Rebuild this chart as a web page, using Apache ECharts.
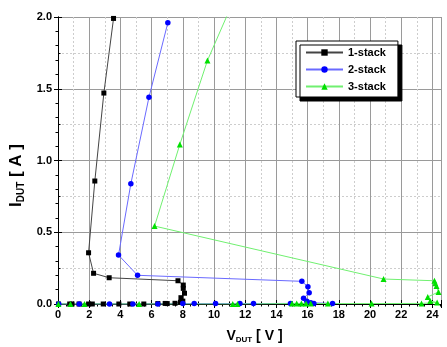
<!DOCTYPE html>
<html>
<head>
<meta charset="utf-8">
<script src="https://cdn.jsdelivr.net/npm/echarts@6.0.0/dist/echarts.min.js"></script>
<style>
  html, body { margin: 0; padding: 0; background: #fff; }
  #chart { width: 447px; height: 347px; }
</style>
</head>
<body>
<div id="chart"></div>
<script>
// values (V_DUT in V, I_DUT in A), in sweep order
const v1 = [0.03, 0.75, 0.9, 1.35, 1.96, 2.2, 2.9, 3.9, 4.6, 5.5, 6.4, 6.87, 7.0, 7.5, 7.85, 8.0, 7.88, 8.11, 8.03, 8.03, 7.69, 3.28, 2.28, 1.96, 2.36, 2.94, 3.56];
const i1 = [0, 0, 0, 0, 0, 0, 0, 0, 0, 0, 0.003, 0.004, 0.003, 0.005, 0.012, 0.02, 0.044, 0.075, 0.109, 0.132, 0.162, 0.183, 0.214, 0.357, 0.857, 1.47, 1.99];

const v2 = [0.05, 1.36, 3.3, 4.8, 6.4, 8.0, 8.73, 10.1, 11.66, 12.53, 14.9, 16.4, 17.6, 16.2, 15.95, 15.74, 16.1, 16.02, 15.63, 5.1, 3.88, 4.67, 5.83, 7.04];
const i2 = [0, 0, 0, 0, 0, 0.003, 0.003, 0.003, 0.003, 0.003, 0.004, 0.004, 0.004, 0.008, 0.02, 0.04, 0.079, 0.12, 0.158, 0.2, 0.341, 0.838, 1.44, 1.96];

const v3 = [0.03, 0.8, 1.7, 5.2, 11.2, 11.5, 15.0, 15.3, 15.6, 15.9, 16.2, 17.3, 20.1, 23.3, 24.3, 23.86, 23.7, 24.39, 24.26, 24.18, 24.13, 20.87, 6.19, 7.81, 9.58, 11.6];
const i3 = [0, 0, 0, 0, 0, 0, 0.003, 0.004, 0.003, 0.004, 0.003, 0.003, 0.003, 0.004, 0.01, 0.021, 0.049, 0.084, 0.125, 0.144, 0.162, 0.174, 0.543, 1.112, 1.697, 2.2];

const seriesNames = ["1-stack", "2-stack", "3-stack"];

const zip = (xs, ys) => xs.map((x, k) => [x, ys[k]]);

const font = "'Liberation Sans', Arial, sans-serif";

const chart = echarts.init(document.getElementById("chart"));

const minorGrid = { show: true, lineStyle: { color: "#cdcdcd", type: [2, 2], width: 1 } };

chart.setOption({
  backgroundColor: "#fff",
  animation: false,
  textStyle: { fontFamily: font },
  grid: { left: 58, right: 6, top: 17, bottom: 43, containLabel: false, outerBoundsMode: "none" },
  legend: {
    data: seriesNames,
    orient: "vertical",
    left: 296,
    top: 41,
    padding: [6, 12, 5, 9],
    itemWidth: 37,
    itemHeight: 8,
    itemGap: 6,
    backgroundColor: "#fff",
    borderColor: "#000",
    borderWidth: 1,
    borderRadius: 0,
    shadowColor: "#000",
    shadowOffsetX: 4,
    shadowOffsetY: 4,
    shadowBlur: 0,
    textStyle: { fontFamily: font, fontWeight: "bold", fontSize: 11, color: "#000" },
  },
  xAxis: [
    {
      type: "value",
      min: 0,
      max: 24.55,
      interval: 2,
      name: "{a|V}{b|DUT}{a| [ V ]}",
      nameLocation: "middle",
      nameGap: 24,
      nameTextStyle: {
        padding: [0, 0, 0, 10],
        rich: {
          a: { fontFamily: font, fontSize: 14, fontWeight: "bold", color: "#000", lineHeight: 16 },
          b: { fontFamily: font, fontSize: 8, fontWeight: "bold", color: "#000", verticalAlign: "bottom", lineHeight: 16, padding: [5, 0, 0, 0] },
        },
      },
      axisLine: { show: true, lineStyle: { color: "#000", width: 1 } },
      axisTick: { show: true, inside: true, length: 4, lineStyle: { color: "#000" } },
      minorTick: { show: true, splitNumber: 2, length: 2.5, lineStyle: { color: "#000" } },
      axisLabel: { color: "#000", fontWeight: "bold", fontSize: 11, margin: 5, showMaxLabel: false },
      splitLine: { show: true, lineStyle: { color: "#9a9a9a", width: 1 } },
      minorSplitLine: minorGrid,
    },
    {
      type: "value",
      position: "top",
      min: 0,
      max: 24.55,
      interval: 2,
      axisLine: { show: true, lineStyle: { color: "#000", width: 1 } },
      axisTick: { show: true, inside: true, length: 4, lineStyle: { color: "#000" } },
      minorTick: { show: true, splitNumber: 4, length: 2.5, lineStyle: { color: "#000" } },
      axisLabel: { show: false },
      splitLine: { show: false },
    },
  ],
  yAxis: [
    {
      type: "value",
      min: 0,
      max: 2,
      interval: 0.5,
      name: "{a|I}{b|DUT}{a| [ A ]}",
      nameLocation: "middle",
      nameRotate: 90,
      nameGap: 30,
      nameTextStyle: {
        padding: [0, 30, 0, 0],
        rich: {
          a: { fontFamily: font, fontSize: 17, fontWeight: "bold", color: "#000", lineHeight: 19 },
          b: { fontFamily: font, fontSize: 10, fontWeight: "bold", color: "#000", verticalAlign: "bottom", lineHeight: 19, padding: [6, 0, 0, 0] },
        },
      },
      axisLine: { show: true, lineStyle: { color: "#000", width: 1 } },
      axisTick: { show: true, inside: true, length: 4, lineStyle: { color: "#000" } },
      minorTick: { show: true, splitNumber: 2, length: 2.5, lineStyle: { color: "#000" } },
      axisLabel: { color: "#000", fontWeight: "bold", fontSize: 11, margin: 6, formatter: (v) => v.toFixed(1) },
      splitLine: { show: true, lineStyle: { color: "#9a9a9a", width: 1 } },
      minorSplitLine: minorGrid,
    },
    {
      type: "value",
      position: "right",
      min: 0,
      max: 2,
      interval: 0.5,
      axisLine: { show: true, lineStyle: { color: "#000", width: 1 } },
      axisTick: { show: true, inside: true, length: 4, lineStyle: { color: "#000" } },
      minorTick: { show: true, splitNumber: 5, length: 2.5, lineStyle: { color: "#000" } },
      axisLabel: { show: false },
      splitLine: { show: false },
    },
  ],
  series: [
    {
      name: seriesNames[0],
      type: "line",
      data: zip(v1, i1),
      symbol: "rect",
      symbolSize: 5,
      lineStyle: { color: "#444", width: 1 },
      itemStyle: { color: "#000" },
      clip: true,
    },
    {
      name: seriesNames[1],
      type: "line",
      data: zip(v2, i2),
      symbol: "circle",
      symbolSize: 5.5,
      lineStyle: { color: "#6a6aff", width: 1 },
      itemStyle: { color: "#0000ff" },
      clip: true,
    },
    {
      name: seriesNames[2],
      type: "line",
      data: zip(v3, i3),
      symbol: "triangle",
      symbolSize: 6,
      lineStyle: { color: "#70f070", width: 1 },
      itemStyle: { color: "#00e000" },
      clip: true,
    },
  ],
});
</script>
</body>
</html>
